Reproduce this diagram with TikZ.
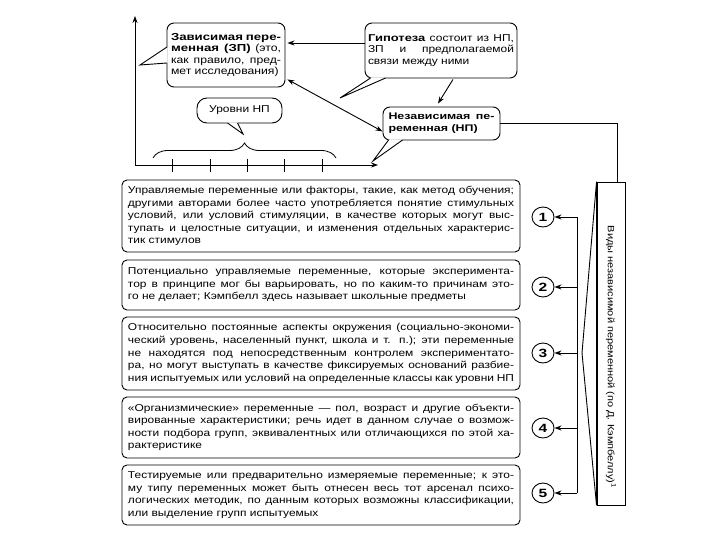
\documentclass[tikz,border=0pt]{standalone}
\usepackage{fontspec}
\setmainfont{Liberation Sans}[FakeStretch=1.2]
\newfontfamily\wb{Liberation Sans}[FakeStretch=1.3, UprightFont={* Bold}, BoldFont={* Bold}]
\usetikzlibrary{arrows.meta,calc,decorations.pathreplacing,shapes.geometric}
\newcommand\jl[2][386bp]{\hbox to #1{#2}}
\begin{document}
\begin{tikzpicture}[x=1bp,y=-1bp, line width=0.9bp,
  arr/.style={-{Stealth[length=7bp,width=5bp]}},
  dbl/.style={{Stealth[length=7bp,width=5bp]}-{Stealth[length=7bp,width=5bp]}},
  tbox/.style={draw, rounded corners=5bp, minimum width=398bp, inner sep=0pt, fill=white, font=\fontsize{10}{12.6}\selectfont},
  bubble/.style={draw, rounded corners=7bp, inner sep=0pt, fill=white, font=\fontsize{10}{11.7}\selectfont},
  num/.style={draw, ellipse, minimum width=22bp, minimum height=20bp, inner sep=0pt, fill=white, font=\wb\fontsize{12}{12}\selectfont},
  ptrfill/.style={fill=white, draw=none}]
\useasboundingbox (0,0) rectangle (720,540);

% axes
\coordinate (O) at (135,165);
\coordinate (ytop) at (135,16);
\coordinate (xend) at (378,165);
\draw[arr, line width=0.8bp] (O) -- (ytop);
\draw[arr, line width=0.8bp] (O) -- (xend);
\foreach \x in {172,210,247,284,322} \draw[line width=0.8bp] (\x,159) -- (\x,172);
\draw[line width=0.8bp, decorate, decoration={brace, amplitude=15bp}] (153,158) -- (336,158);

% bubbles
\node[bubble, minimum width=118bp, minimum height=64bp] (zp) at (226,55) {\vbox{\fontsize{10.2}{11.7}\selectfont
  \jl[110bp]{{\wb Зависимая пере-}}
  \jl[110bp]{{\wb менная (ЗП)} (это,}
  \jl[110bp]{как правило, пред-}
  \hbox{мет исследования)}}};
\coordinate (zptip) at (140,65);
\fill[ptrfill] ($(zp.west)+(1,-8)$) -- (zptip) -- ($(zp.west)+(1,8)$) -- cycle;
\draw ($(zp.west)+(0.45,-8)$) -- (zptip) -- ($(zp.west)+(0.45,8)$);

\node[bubble, minimum width=152bp, minimum height=55bp] (hyp) at (441,50.5) {\vbox{
  \jl[146bp]{{\wb Гипотеза} состоит из НП,}
  \jl[146bp]{ЗП и предполагаемой}
  \hbox{связи между ними}}};
\coordinate (hyptip) at (340,98);
\fill[ptrfill] ($(hyp.south west)+(6,-1)$) -- (hyptip) -- ($(hyp.south west)+(21,-1)$) -- cycle;
\draw ($(hyp.south west)+(6,-0.45)$) -- (hyptip) -- ($(hyp.south west)+(21,-0.45)$);

\node[bubble, minimum width=117bp, minimum height=33bp] (np) at (441.5,123.5) {\vbox{\fontsize{9.6}{11.7}\selectfont
  \jl[106bp]{{\wb Независимая пе-}}
  \hbox{{\wb ременная (НП)}}}};
\coordinate (nptip) at (373,161);
\fill[ptrfill] ($(np.south west)+(6,-1)$) -- (nptip) -- ($(np.south west)+(20,-1)$) -- cycle;
\draw ($(np.south west)+(6,-0.45)$) -- (nptip) -- ($(np.south west)+(20,-0.45)$);

\node[bubble, rounded corners=10bp, minimum width=85bp, minimum height=25bp] (lev) at (239.5,110.5) {Уровни НП};
\coordinate (levtip) at (243,134);
\fill[ptrfill] ($(lev.south west)+(31,-1)$) -- (levtip) -- ($(lev.south west)+(41,-1)$) -- cycle;
\draw ($(lev.south west)+(31,-0.45)$) -- (levtip) -- ($(lev.south west)+(41,-0.45)$);

% connectors among bubbles
\draw[arr] ($(hyp.west)+(0,-7.5)$) -- ($(zp.east)+(2,-12)$);
\draw[arr] ($(hyp.south)+(12,1)$) -- ($(np.north)+(-3.5,-3)$);
\draw[dbl] ($(zp.south east)+(2,-8)$) -- ($(np.south west)+(0,-9)$);

% text boxes
\node[tbox, minimum height=72bp] (b1) at (321,216) {\vbox{
  \jl{Управляемые переменные или факторы, такие, как метод обучения;}
  \jl{другими авторами более часто употребляется понятие стимульных}
  \jl{условий, или условий стимуляции, в качестве которых могут выс-}
  \jl{тупать и целостные ситуации, и изменения отдельных характерис-}
  \hbox{тик стимулов}}};
\node[tbox, minimum height=50bp] (b2) at (321,285) {\vbox{
  \jl{Потенциально управляемые переменные, которые эксперимента-}
  \jl{тор в принципе мог бы варьировать, но по каким-то причинам это-}
  \hbox{го не делает; Кэмпбелл здесь называет школьные предметы}}};
\node[tbox, minimum height=73bp] (b3) at (321,353.5) {\vbox{
  \jl{Относительно постоянные аспекты окружения (социально-экономи-}
  \jl{ческий уровень, населенный пункт, школа и т. п.); эти переменные}
  \jl{не находятся под непосредственным контролем экспериментато-}
  \jl{ра, но могут выступать в качестве фиксируемых оснований разбие-}
  \jl{ния испытуемых или условий на определенные классы как уровни НП}}};
\node[tbox, minimum height=61bp] (b4) at (321,427.5) {\vbox{
  \jl{«Организмические» переменные — пол, возраст и другие объекти-}
  \jl{вированные характеристики; речь идет в данном случае о возмож-}
  \jl{ности подбора групп, эквивалентных или отличающихся по этой ха-}
  \hbox{рактеристике}}};
\node[tbox, minimum height=60bp] (b5) at (321,495) {\vbox{
  \jl{Тестируемые или предварительно измеряемые переменные; к это-}
  \jl{му типу переменных может быть отнесен весь тот арсенал психо-}
  \jl{логических методик, по данным которых возможны классификации,}
  \hbox{или выделение групп испытуемых}}};

% numbers
\node[num] (c1) at (543,217) {1};
\node[num] (c2) at (543,287) {2};
\node[num] (c3) at (543,353) {3};
\node[num] (c4) at (543,428) {4};
\node[num] (c5) at (543,493) {5};

% bracket
\coordinate (br1) at (577,217);
\coordinate (br5) at (577,493);
\draw (br1) -- (br5);
\foreach \i in {1,...,5} \draw[arr] (c\i.east -| br1) -- (c\i.east);

% vertical box
\node[draw, minimum width=28bp, minimum height=323bp, inner sep=0pt] (vb) at (611,343.5) {};
\node[rotate=-90, font=\fontsize{9.2}{11}\selectfont] (vt) at (611,357) {Виды независимой переменной (по Д. Кэмпбеллу)\textsuperscript{1}};
\coordinate (apex) at (582,353);
\draw (vb.north west) -- (apex) -- (vb.south west);
\draw[line width=1.6bp] (vb.north west) -- (vb.south west);
\coordinate (vbtop) at ($(vb.north west)+(21,0)$);
\draw (np.east) -| (vbtop);
\end{tikzpicture}
\end{document}
